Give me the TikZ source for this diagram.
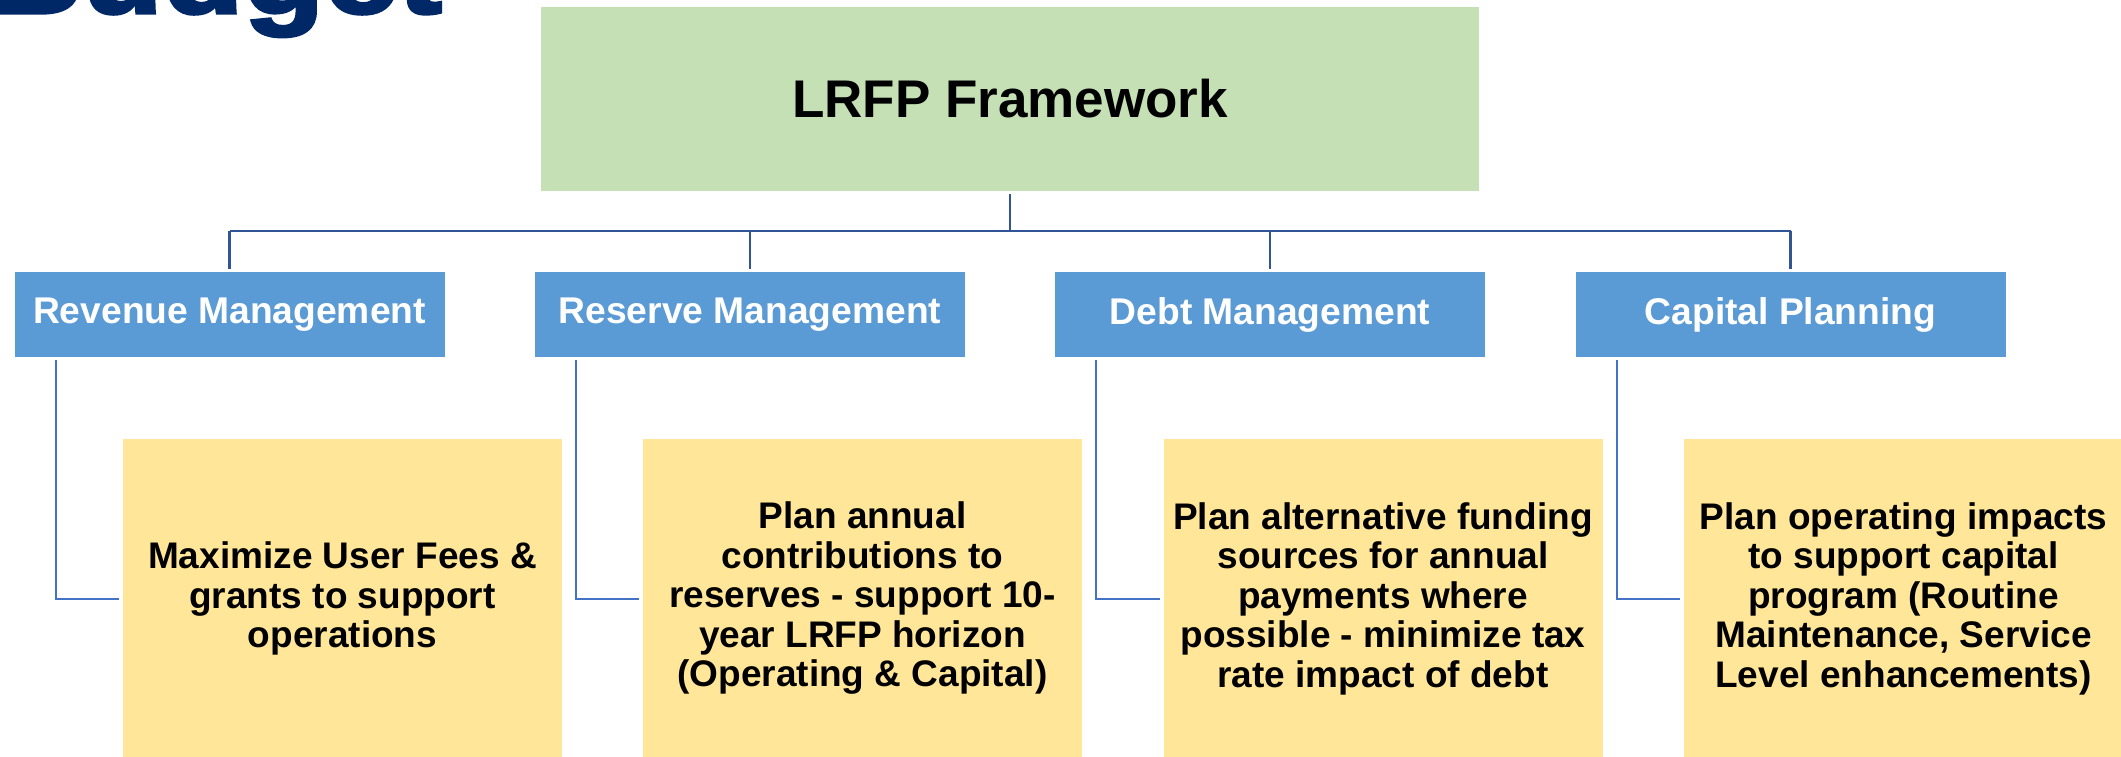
\documentclass[tikz,border=0pt]{standalone}
\usepackage{fontspec}
\setmainfont{Liberation Sans}
\newfontfamily\titlefont{Liberation Sans Bold}[FakeStretch=1.18, RawFeature={embolden=3}]
\usetikzlibrary{calc}

\definecolor{navy}{HTML}{012866}
\definecolor{lrfpgreen}{HTML}{C5E0B4}
\definecolor{areablue}{HTML}{5B9BD5}
\definecolor{noteyellow}{HTML}{FFE699}
\definecolor{linedark}{HTML}{2F5597}
\definecolor{linelight}{HTML}{4472C4}

\begin{document}
\begin{tikzpicture}[x=1pt, y=-1pt,
  every node/.style={inner sep=0pt, outer sep=0pt},
  topbox/.style={fill=lrfpgreen, minimum width=938pt, minimum height=184pt,
    font=\fontsize{53}{60}\selectfont\bfseries},
  areabox/.style={fill=areablue, text=white, minimum width=430pt, minimum height=85pt,
    font=\fontsize{37.2}{40}\selectfont\bfseries},
  notebox/.style={fill=noteyellow, minimum width=439pt, minimum height=319pt, align=center,
    font=\fontsize{37}{39.5}\selectfont\bfseries},
  trunk/.style={draw=linedark, line width=2.2pt},
  branch/.style={draw=linelight, line width=2pt}]

\useasboundingbox (0,0) rectangle (2121,757);
\clip (0,0) rectangle (2121,757);

% page title, running off the top edge
\node[anchor=base east, text=navy, font=\titlefont\fontsize{112}{112}\selectfont] (title) at (442,13) {Budget};

% framework root
\node[topbox] (lrfp) at (1010,99) {LRFP Framework};

% management areas
\node[areabox] (rev)  at (229.5,314.5) {Revenue Management};
\node[areabox] (res)  at (750,314.5)   {Reserve Management};
\node[areabox] (debt) at (1270,314.5)  {Debt Management};
\node[areabox] (cap)  at (1790.5,314.5){Capital Planning};

% area notes
\node[notebox] (revnote)  at (342.5,598.5)  {Maximize User Fees \&\\grants to support\\operations};
\node[notebox] (resnote)  at (862.5,598.5)  {Plan annual\\contributions to\\reserves - support 10-\\year LRFP horizon\\(Operating \& Capital)};
\node[notebox] (debtnote) at (1383,598.5)   {Plan alternative funding\\sources for annual\\payments where\\possible - minimize tax\\rate impact of debt};
\node[notebox] (capnote)  at (1903.5,598.5) {Plan operating impacts\\to support capital\\program (Routine\\Maintenance, Service\\Level enhancements)};

% root to areas
\coordinate (hub) at ($(lrfp.south)+(0,40)$);
\draw[trunk] ([yshift=-3pt]lrfp.south) -- (hub);
\draw[trunk] (rev.north |- hub) -- (cap.north |- hub);
\foreach \a in {rev,res,debt,cap}
  \draw[trunk] (\a.north |- hub) -- ([yshift=3pt]\a.north);

% areas to notes
\foreach \a/\n in {rev/revnote,res/resnote,debt/debtnote,cap/capnote}
  \draw[branch] ([xshift=41pt,yshift=-3pt]\a.south west) |- ([xshift=-4pt]\n.west);
\end{tikzpicture}
\end{document}
